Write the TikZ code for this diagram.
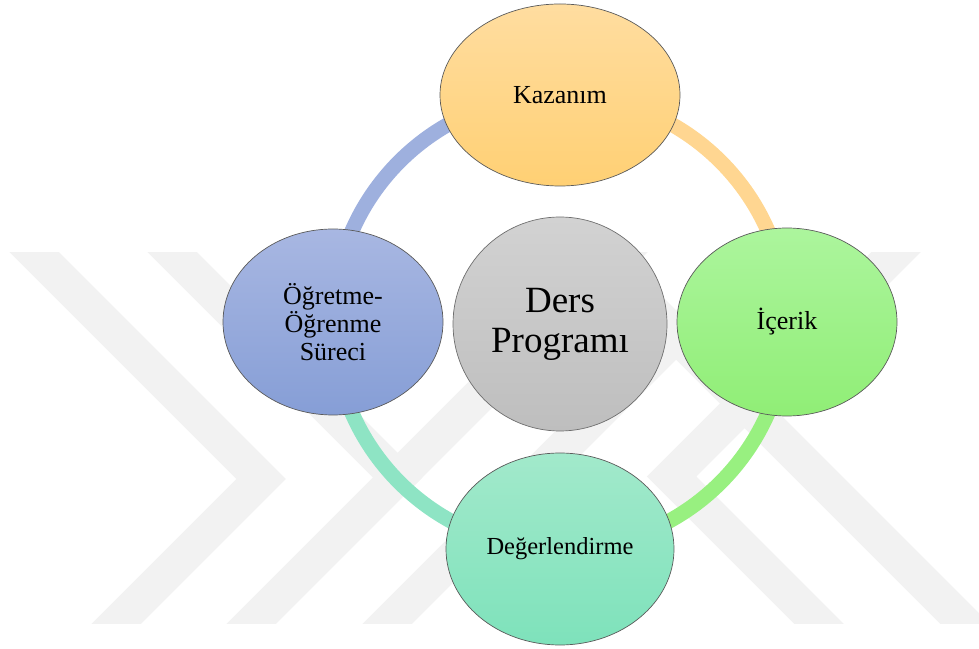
\documentclass[tikz,border=0pt]{standalone}
\usepackage{fontspec}
\setmainfont{Liberation Serif}
\newfontfamily\tnr{Liberation Serif}
\usetikzlibrary{shapes.geometric,backgrounds}
\definecolor{wm}{RGB}{242,242,242}
\definecolor{ringB}{RGB}{158,176,222}
\definecolor{ringO}{RGB}{255,214,145}
\definecolor{ringG}{RGB}{152,240,128}
\definecolor{ringT}{RGB}{142,228,196}
\definecolor{kazT}{RGB}{255,221,160}
\definecolor{kazB}{RGB}{255,208,116}
\definecolor{ogrT}{RGB}{168,183,226}
\definecolor{ogrB}{RGB}{134,158,214}
\definecolor{dersT}{RGB}{210,210,210}
\definecolor{dersB}{RGB}{190,190,190}
\definecolor{iceT}{RGB}{172,245,157}
\definecolor{iceB}{RGB}{144,238,118}
\definecolor{degT}{RGB}{162,233,203}
\definecolor{degB}{RGB}{126,226,187}
\definecolor{edge}{RGB}{90,90,90}
\begin{document}
\begin{tikzpicture}[x=1pt,y=1pt,
  bubble/.style={ellipse, draw=edge, line width=0.7pt, inner sep=0pt, align=center, text=black},
  lbl/.style={font=\tnr\fontsize{26}{28}\selectfont},
  ringarc/.style={line width=15pt},
  wmband/.style={draw=wm, line width=35pt, line join=miter, miter limit=10}]
\useasboundingbox (0,0) rectangle (979,648);
% nodes
\node[bubble, minimum width=240pt, minimum height=182pt, top color=kazT, bottom color=kazB, lbl] (kaz) at (560,553) {Kazanım};
\node[bubble, minimum width=220pt, minimum height=186pt, top color=ogrT, bottom color=ogrB, lbl] (ogr) at (333,326) {Öğretme-\\Öğrenme\\Süreci};
\node[bubble, minimum width=214pt, minimum height=214pt, top color=dersT, bottom color=dersB, draw={rgb,255:red,110;green,110;blue,110}, font=\tnr\fontsize{37}{40}\selectfont] (ders) at (560,324) {Ders\\Programı};
\node[bubble, minimum width=220pt, minimum height=188pt, top color=iceT, bottom color=iceB, lbl] (ice) at (787,326) {İçerik};
\node[bubble, minimum width=228pt, minimum height=192pt, top color=degT, bottom color=degB, font=\tnr\fontsize{24.5}{28}\selectfont] (deg) at (560,99) {Değerlendirme};
\begin{scope}[on background layer]
  % watermark
  \begin{scope}[shift={(0,648)}, yscale=-1]
    \clip (0,253) rectangle (979,623);
    \draw[wmband] (-20,198) -- (261,479) -- (77,663);
    \draw[wmband] (133,213) -- (397.5,477.5) -- (212,663);
    \draw[wmband] (397.5,477.5) -- (662,213);
    \draw[wmband] (798,213) -- (348,663);
    \draw[wmband] (935,213) -- (671.5,476.5) -- (858,663);
    \draw[wmband] (554,213) -- (1004,663);
  \end{scope}
  % ring arcs
  \draw[ringarc, ringB] (ogr.center) arc[start angle=180, end angle=90, radius=227pt];
  \draw[ringarc, ringO] (kaz.center) arc[start angle=90, end angle=0, radius=227pt];
  \draw[ringarc, ringG] (ice.center) arc[start angle=0, end angle=-90, radius=227pt];
  \draw[ringarc, ringT] (deg.center) arc[start angle=270, end angle=180, radius=227pt];
\end{scope}
\end{tikzpicture}
\end{document}
